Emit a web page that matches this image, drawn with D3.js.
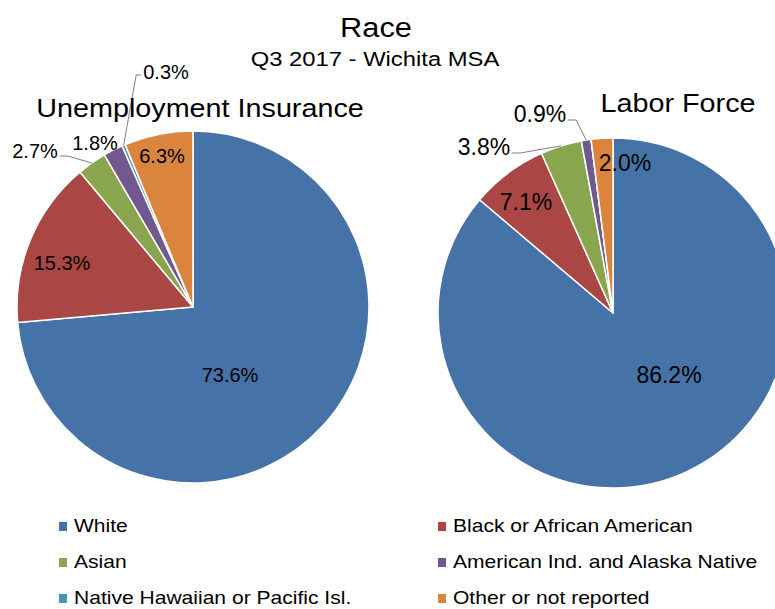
<!DOCTYPE html>
<html>
<head>
<meta charset="utf-8">
<script src="https://cdn.jsdelivr.net/npm/d3@7"></script>
<style>
  body { margin: 0; background: #fff; }
  svg { display: block; font-family: "Liberation Sans", Arial, sans-serif; }
</style>
</head>
<body>
<div id="chart"></div>
<script>
// data
const categories = ["White", "Black or African American", "Asian",
  "American Ind. and Alaska Native", "Native Hawaiian or Pacific Isl.", "Other or not reported"]
const uiValues = [73.6, 15.3, 2.7, 1.8, 0.3, 6.3]
const lfValues = [86.2, 7.1, 3.8, 0.9, 0, 2.0]
const colors = ["#4572A7", "#AA4643", "#89A54E", "#71588F", "#4198AF", "#DB843D"]

// label layout (offset from pie centre, baseline), leader = outside label
const uiLabels = [
  { dx: 37, dy: 75 }, { dx: -131, dy: -37 }, { dx: -158, dy: -149, leader: "right" },
  { dx: -98, dy: -157 }, { dx: -27, dy: -228, leader: "left" }, { dx: -31, dy: -144 }
]
const lfLabels = [
  { dx: 56, dy: 70 }, { dx: -87, dy: -103 }, { dx: -129, dy: -158, leader: "right" },
  { dx: -73, dy: -191, leader: "right" }, null, { dx: 12, dy: -142 }
]

const width = 775, height = 609

const svg = d3.select("#chart").append("svg")
  .attr("width", width)
  .attr("height", height)

function stretchText(g, x, y, txt, size, sx) {
  return g.append("text")
    .attr("transform", "translate(" + x + "," + y + ") scale(" + sx + ",1)")
    .attr("text-anchor", "middle")
    .attr("font-size", size)
    .attr("fill", "#000")
    .text(txt)
}

stretchText(svg, 376, 37, "Race", 28, 1.1)
stretchText(svg, 375, 66, "Q3 2017 - Wichita MSA", 20, 1.19)

const pie = d3.pie().sort(null).value(d => d)

function drawPie(cx, cy, r, values, labels, title, tx, ty, fontSize) {
  const g = svg.append("g").attr("transform", "translate(" + cx + "," + cy + ")")
  const arc = d3.arc().innerRadius(0).outerRadius(r)
  const arcs = pie(values)

  g.selectAll("path.slice")
    .data(arcs)
    .enter()
    .append("path")
    .attr("class", "slice")
    .attr("d", arc)
    .attr("fill", (d, i) => colors[i])
    .attr("stroke", "#fff")
    .attr("stroke-width", 1.5)

  arcs.forEach((a, i) => {
    const lab = labels[i]
    if (!lab || a.value === 0) return
    const txt = d3.format(".1f")(a.value) + "%"
    const t = g.append("text")
      .attr("x", lab.dx)
      .attr("y", lab.dy)
      .attr("text-anchor", "middle")
      .attr("font-size", fontSize)
      .attr("fill", "#000")
      .text(txt)
    if (lab.leader) {
      const w = t.node().getComputedTextLength()
      const mid = (a.startAngle + a.endAngle) / 2
      const p0 = [r * Math.sin(mid), -r * Math.cos(mid)]
      let p2, p1
      if (lab.leader === "right") {
        p2 = [lab.dx + w / 2 + 2, lab.dy - 2]
        p1 = [p2[0] + 8, p2[1]]
      } else {
        p2 = [lab.dx - w / 2 - 2, lab.dy - 4]
        p1 = [p2[0] - 5, p2[1]]
      }
      g.append("path")
        .attr("d", d3.line()([p0, p1, p2]))
        .attr("fill", "none")
        .attr("stroke", "#7f7f7f")
        .attr("stroke-width", 1)
    }
  })

  stretchText(svg, tx, ty, title, 25, 1.15)
}

drawPie(193, 307, 176, uiValues, uiLabels, "Unemployment Insurance", 200, 117, 20)
drawPie(613, 313, 175, lfValues, lfLabels, "Labor Force", 678, 112, 23)

// legend
const legend = svg.append("g")
const rowY = [532, 568, 604]
const colX = [59, 438]
categories.forEach((c, i) => {
  const x = colX[i % 2], y = rowY[Math.floor(i / 2)]
  legend.append("rect")
    .attr("x", x)
    .attr("y", y - 10)
    .attr("width", 8)
    .attr("height", 9)
    .attr("fill", colors[i])
  legend.append("text")
    .attr("transform", "translate(" + (x + 15) + "," + y + ") scale(1.17,1)")
    .attr("font-size", 18)
    .attr("fill", "#000")
    .text(c)
})
</script>
</body>
</html>
